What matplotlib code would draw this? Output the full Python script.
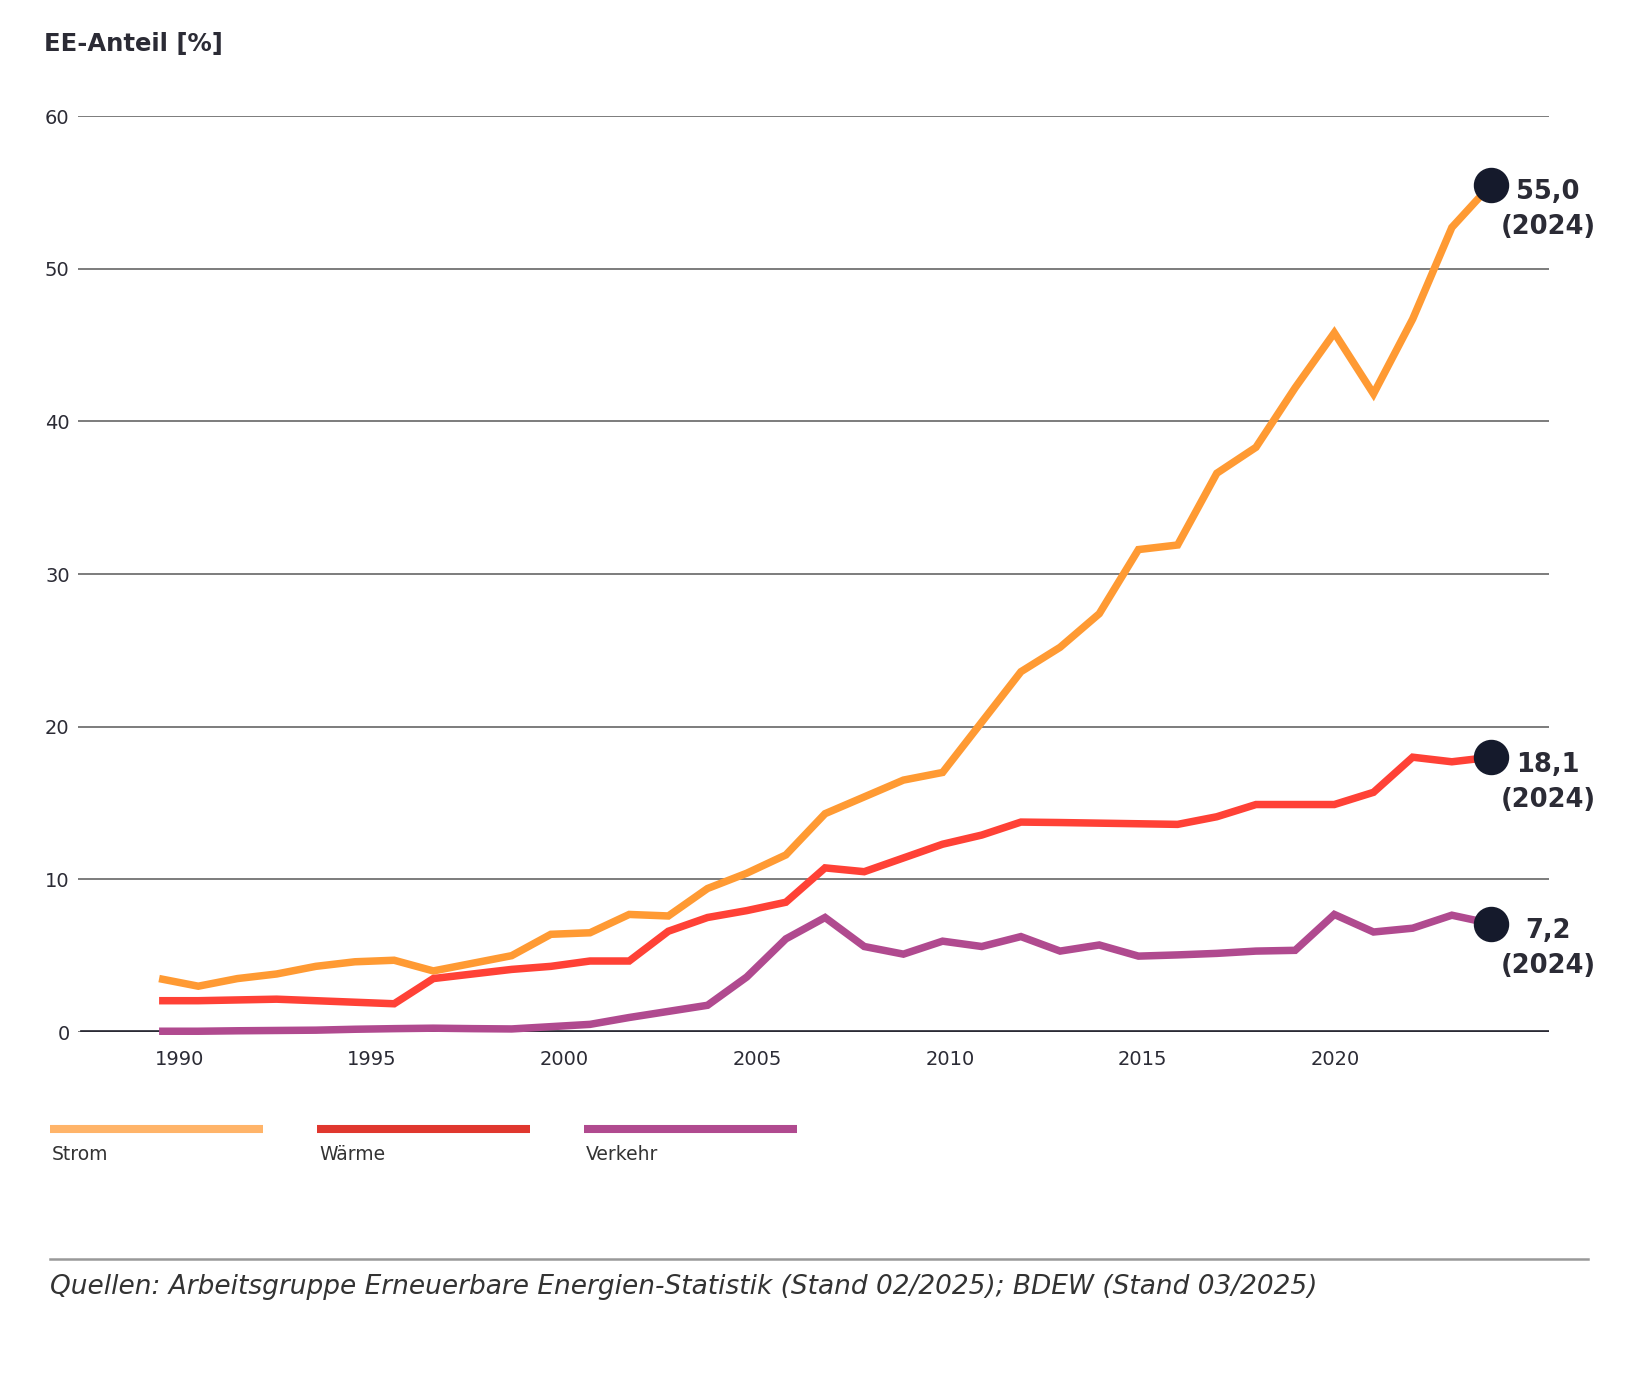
import matplotlib as mpl
mpl.use('Agg')
import matplotlib.pyplot as plt
from matplotlib.lines import Line2D
import numpy as np

plt.rcParams['font.family'] = ['DejaVu Sans']

# EE-Anteil in %, 1990 - 2024
years = list(range(1990, 2025))
strom = [3.5, 3.0, 3.5, 3.8, 4.3, 4.6, 4.7, 4.0, 4.5, 5.0,
         6.4, 6.5, 7.7, 7.6, 9.4, 10.4, 11.6, 14.3, 15.4, 16.5,
         17.0, 20.3, 23.6, 25.2, 27.4, 31.6, 31.9, 36.6, 38.3, 42.2,
         45.8, 41.8, 46.7, 52.7, 55.5]
waerme = [2.05, 2.05, 2.1, 2.15, 2.05, 1.95, 1.85, 3.5, 3.8, 4.1,
          4.3, 4.65, 4.65, 6.6, 7.5, 7.95, 8.5, 10.75, 10.5, 11.4,
          12.3, 12.9, 13.75, 13.72, 13.68, 13.64, 13.6, 14.1, 14.9, 14.9,
          14.9, 15.7, 18.0, 17.7, 18.0]
verkehr = [0.05, 0.05, 0.08, 0.1, 0.12, 0.18, 0.22, 0.25, 0.22, 0.2,
           0.35, 0.5, 0.95, 1.35, 1.75, 3.6, 6.1, 7.5, 5.6, 5.1,
           5.95, 5.6, 6.25, 5.3, 5.7, 4.97, 5.05, 5.15, 5.3, 5.35,
           7.7, 6.55, 6.8, 7.65, 7.1]

series_names = ['Strom', 'Wärme', 'Verkehr']
end_labels = ['55,0\n(2024)', '18,1\n(2024)', '7,2\n(2024)']
tick_years = [1990, 1995, 2000, 2005, 2010, 2015, 2020]
yticks = [0, 10, 20, 30, 40, 50, 60]

line_colors = ['#FF9A33', '#FF4136', '#B04A8F']
legend_colors = ['#FFB469', '#E0372E', '#B04A8F']
text_color = '#2B2B35'

W, H = 1632, 1394
fig = plt.figure(figsize=(W/100, H/100), dpi=100)
ax_l, ax_r, ax_t, ax_b = 78, 1549, 116, 1032
ax = fig.add_axes([ax_l/W, 1 - ax_b/H, (ax_r-ax_l)/W, (ax_b-ax_t)/H])

# x: Jahre, Achsbeschriftung leicht versetzt wie im Original
ax.set_xlim(1987.93, 2025.48)
ax.set_ylim(0, 60)
ax.set_xticks([1990.51 + (t - 1990) * 0.984 for t in tick_years])
ax.set_xticklabels([str(t) for t in tick_years])
ax.set_yticks(yticks)
ax.set_yticklabels([str(v) for v in yticks])
ax.tick_params(axis='both', length=0, labelsize=14, colors=text_color)
ax.tick_params(axis='y', pad=6)
ax.tick_params(axis='x', pad=13)
for s in ax.spines.values():
    s.set_visible(False)
ax.grid(axis='y', color='#666666', linewidth=1.2)
ax.grid(axis='x', visible=False)
ax.set_axisbelow(True)
ax.axhline(0, xmin=4/(ax_r-ax_l), color='#2B2B35', linewidth=3.4, zorder=1.5)

for vals, col, lab in zip([strom, waerme, verkehr], line_colors, end_labels):
    ax.plot(years, vals, color=col, linewidth=5.4, solid_joinstyle='miter',
            solid_capstyle='butt', zorder=3, clip_on=False)
    ax.plot(years[-1], vals[-1], 'o', color='#151A2C', markersize=24.5, zorder=4, clip_on=False)
    ax.annotate(lab, xy=(years[-1], vals[-1]), xytext=(41, -18), textcoords='offset points',
                ha='center', va='center', multialignment='center', linespacing=1.45,
                fontsize=18.5, fontweight='bold', color=text_color)

# Titel
fig.text(44/W, 1 - 44/H, 'EE-Anteil [%]', fontsize=17.5, fontweight='bold',
         color=text_color, ha='left', va='center')

# Legende (Balken über Text)
for i, (name, col) in enumerate(zip(series_names, legend_colors)):
    x0 = 50 + i * 267
    fig.add_artist(Line2D([x0/W, (x0+213)/W], [1 - 1129/H]*2, color=col,
                          linewidth=5.8, solid_capstyle='butt'))
    fig.text((x0+2)/W, 1 - 1154/H, name, fontsize=13.5, color='#333333',
             ha='left', va='center')

# Trennlinie und Quelle
fig.add_artist(Line2D([50/W, 1588/W], [1 - 1259/H]*2, color='#999999', linewidth=1.8))
fig.text(50/W, 1 - 1287/H,
         'Quellen: Arbeitsgruppe Erneuerbare Energien-Statistik (Stand 02/2025); BDEW (Stand 03/2025)',
         fontsize=19, fontstyle='italic', color='#333333', ha='left', va='center')

plt.savefig('out.png', dpi=100)
